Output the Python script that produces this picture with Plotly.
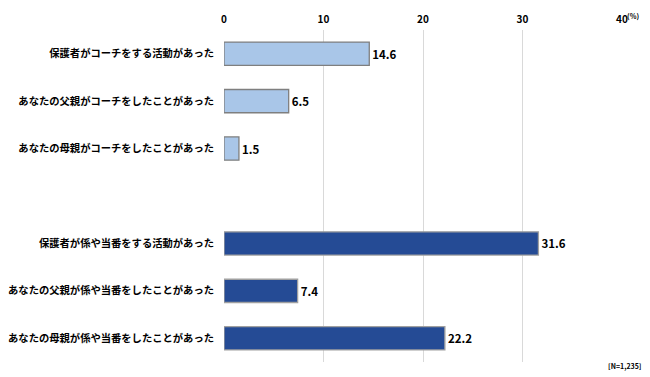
import plotly.graph_objects as go

categories = [
    "保護者がコーチをする活動があった",
    "あなたの父親がコーチをしたことがあった",
    "あなたの母親がコーチをしたことがあった",
    " ",
    "保護者が係や当番をする活動があった",
    "あなたの父親が係や当番をしたことがあった",
    "あなたの母親が係や当番をしたことがあった",
]
values = [14.6, 6.5, 1.5, None, 31.6, 7.4, 22.2]
bar_colors = ["#A9C6E8", "#A9C6E8", "#A9C6E8", "#FFFFFF", "#254B95", "#254B95", "#254B95"]
line_colors = ["#7F7F7F", "#7F7F7F", "#7F7F7F", "#FFFFFF", "#A0A0A0", "#A0A0A0", "#A0A0A0"]
tick_vals = [0, 10, 20, 30, 40]

FONT = "Noto Sans CJK JP"

fig = go.Figure(go.Bar(
    y=categories, x=values, orientation="h",
    marker=dict(color=bar_colors, line=dict(color=line_colors, width=1.3)),
    width=0.49,
    text=[f"{v:.1f}" if v is not None else "" for v in values],
    textposition="outside",
    textfont=dict(family=FONT, size=11.5, color="#000000", weight="bold"),
    cliponaxis=False,
))

fig.update_layout(
    width=650, height=377,
    margin=dict(l=224, r=28, t=30, b=15, autoexpand=False),
    paper_bgcolor="white", plot_bgcolor="white",
    showlegend=False,
    bargap=0.5,
    font=dict(family=FONT),
    xaxis=dict(
        side="top", range=[0, 40], tickvals=tick_vals,
        showgrid=True, gridcolor="#D9D9D9", gridwidth=1,
        zeroline=False, showline=False, ticks="", automargin=False,
        ticklabelstandoff=4,
        tickfont=dict(family=FONT, size=10, color="#000000", weight="bold"),
    ),
    yaxis=dict(
        categoryorder="array", categoryarray=categories,
        autorange="reversed", showgrid=False, zeroline=False,
        showline=False, ticks="", ticklabelstandoff=9, automargin=False,
        tickfont=dict(family=FONT, size=10.3, color="#000000", weight="bold"),
    ),
    annotations=[
        dict(text="(%)", x=40, y=1, xref="x", yref="paper",
             xanchor="left", yanchor="bottom", yshift=7, xshift=3,
             showarrow=False, font=dict(family=FONT, size=7, color="#000000", weight="bold")),
        dict(text="[N=1,235]", x=1, y=0, xref="paper", yref="paper",
             xanchor="right", yanchor="middle", xshift=21, yshift=-4,
             showarrow=False, font=dict(family=FONT, size=7, color="#000000", weight="bold")),
    ],
)

fig.write_html("out.html", config={"displayModeBar": False},
               post_script="document.body.style.margin='0';document.body.style.padding='0';")
